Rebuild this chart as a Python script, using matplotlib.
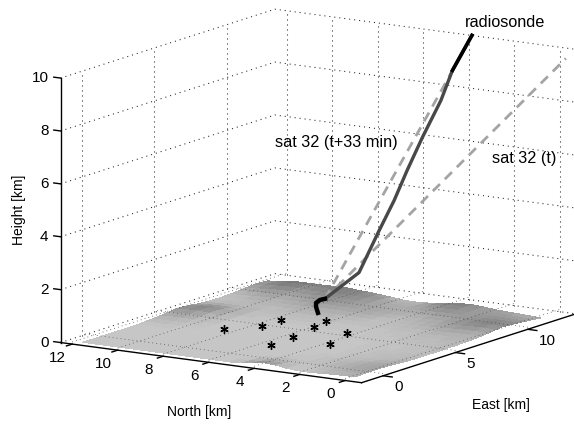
import numpy as np
import matplotlib
matplotlib.use("Agg")
import matplotlib.pyplot as plt
from mpl_toolkits.mplot3d import proj3d

plt.rcParams['font.family'] = ['Liberation Sans', 'DejaVu Sans']

# axis limits in km
east_lim = [-1.49, 13.33]
north_lim = [-0.72, 12.51]
height_lim = [0, 10]

east_ticks = [0, 5, 10]
north_ticks = [0, 2, 4, 6, 8, 10, 12]
height_ticks = [0, 2, 4, 6, 8, 10]

# radiosonde track
sonde_east = [7.84, 7.71, 7.71, 7.64, 7.30, 8.37, 8.70, 8.95, 9.36, 9.72, 10.05, 10.44, 10.94]
sonde_north = [7.13, 7.13, 7.13, 6.91, 6.48, 5.66, 4.99, 4.49, 4.18, 3.73, 3.13, 2.87, 2.33]
sonde_height = [0.10, 0.35, 0.50, 0.65, 0.80, 1.70, 3.30, 4.45, 5.55, 6.80, 8.20, 9.30, 10.60]

# satellite rays, start and end
sat_t_east = [7.30, 11.76]
sat_t_north = [6.48, -1.28]
sat_t_height = [0.80, 10.0]
sat_t33_east = [7.30, 11.55]
sat_t33_north = [6.48, 2.98]
sat_t33_height = [0.80, 10.0]

# receivers on the ground
recv_east = [3.44, 4.71, 6.01, 5.63, 6.78, 5.39, 3.68, 2.02, 3.33]
recv_north = [8.47, 7.62, 7.61, 5.90, 6.11, 4.28, 5.58, 5.48, 3.71]
recv_height = [0.1] * 9

# terrain height in 10 m steps, rows go north, columns go east
terrain_east = np.linspace(-1.2, 11.6, 25)
terrain_north = np.linspace(-0.28, 11.72, 25)
terrain = np.array([
    [12, 14, 15, 15, 14, 12, 10, 9, 8, 8, 8, 8, 9, 9, 10, 11, 13, 16, 20, 23, 22, 19, 16, 13, 10],
    [11, 13, 14, 14, 13, 11, 9, 8, 8, 7, 7, 8, 8, 9, 10, 11, 14, 18, 22, 24, 23, 20, 17, 14, 12],
    [10, 11, 12, 12, 11, 9, 8, 8, 7, 7, 7, 7, 8, 8, 9, 11, 14, 18, 21, 23, 22, 20, 18, 16, 14],
    [8, 9, 10, 10, 9, 8, 7, 7, 7, 6, 6, 7, 7, 8, 9, 11, 13, 16, 19, 20, 20, 19, 18, 17, 16],
    [6, 7, 8, 8, 8, 7, 7, 6, 6, 6, 6, 6, 7, 7, 8, 9, 11, 14, 16, 17, 18, 18, 18, 18, 18],
    [6, 6, 7, 7, 7, 6, 6, 6, 6, 6, 6, 6, 6, 7, 7, 8, 10, 12, 13, 15, 17, 19, 20, 21, 22],
    [9, 8, 7, 6, 6, 6, 5, 5, 5, 5, 5, 6, 6, 6, 7, 8, 9, 10, 12, 14, 17, 20, 23, 25, 25],
    [16, 12, 8, 6, 6, 5, 5, 5, 5, 5, 5, 5, 6, 6, 6, 7, 8, 9, 10, 12, 15, 19, 22, 25, 24],
    [19, 14, 9, 6, 5, 5, 5, 5, 5, 5, 5, 5, 5, 6, 6, 7, 7, 8, 9, 11, 13, 16, 19, 22, 20],
    [14, 10, 7, 5, 5, 5, 5, 5, 5, 5, 5, 5, 5, 6, 6, 7, 7, 8, 10, 12, 13, 14, 15, 16, 14],
    [7, 6, 5, 5, 5, 5, 5, 5, 5, 5, 5, 5, 5, 6, 6, 7, 8, 10, 12, 13, 13, 13, 12, 11, 9],
    [5, 5, 5, 5, 5, 5, 5, 5, 5, 5, 5, 5, 5, 6, 6, 7, 9, 11, 13, 14, 14, 13, 12, 10, 7],
    [5, 5, 5, 5, 5, 5, 5, 5, 5, 5, 5, 5, 5, 6, 7, 8, 9, 12, 14, 15, 15, 15, 14, 11, 7],
    [5, 5, 5, 5, 5, 5, 5, 5, 5, 5, 5, 5, 5, 6, 7, 8, 10, 12, 14, 16, 17, 18, 19, 17, 12],
    [5, 5, 5, 5, 5, 5, 5, 5, 5, 5, 5, 5, 5, 6, 7, 8, 10, 12, 15, 17, 19, 21, 22, 21, 16],
    [5, 5, 5, 5, 5, 5, 5, 5, 5, 5, 5, 5, 5, 6, 7, 8, 10, 12, 15, 18, 20, 22, 24, 24, 20],
    [5, 5, 5, 5, 5, 5, 5, 5, 5, 5, 5, 5, 5, 6, 7, 8, 10, 12, 15, 18, 21, 23, 25, 25, 22],
    [5, 5, 5, 5, 5, 5, 5, 5, 5, 5, 5, 5, 6, 6, 7, 8, 9, 11, 13, 16, 19, 22, 24, 26, 26],
    [5, 5, 5, 5, 5, 5, 5, 5, 5, 5, 5, 5, 6, 7, 7, 8, 8, 10, 12, 14, 17, 20, 23, 25, 25],
    [5, 5, 5, 5, 5, 5, 5, 5, 6, 6, 7, 8, 9, 10, 10, 10, 9, 10, 11, 13, 16, 19, 22, 25, 24],
    [5, 5, 5, 5, 5, 5, 5, 5, 6, 7, 8, 10, 13, 14, 12, 10, 9, 10, 12, 15, 18, 22, 25, 27, 24],
    [5, 5, 5, 5, 5, 5, 5, 6, 7, 9, 12, 15, 19, 20, 17, 12, 9, 9, 11, 14, 18, 22, 26, 28, 24],
    [5, 5, 5, 5, 5, 5, 5, 6, 8, 10, 14, 18, 22, 23, 19, 13, 9, 8, 9, 12, 16, 20, 24, 26, 22],
    [5, 5, 5, 5, 5, 5, 5, 6, 8, 10, 13, 17, 21, 21, 17, 12, 8, 7, 8, 10, 13, 16, 19, 20, 16],
    [5, 5, 5, 5, 5, 5, 5, 5, 7, 9, 11, 14, 17, 17, 14, 10, 8, 7, 7, 8, 10, 12, 14, 14, 12],
]) / 100

fig = plt.figure(figsize=(5.74, 4.24), dpi=100)
side = 640
ax = fig.add_axes([(309.6 - side / 2) / 574, (424 - 204.6 - side / 2) / 424, side / 574, side / 424],
                  projection='3d', computed_zorder=False)
ax.set_proj_type('ortho')
ax.view_init(elev=11.95, azim=-147.2)
ax.set_box_aspect((395.2, 357.6, 270), zoom=580.7 / side)
ax.set_axis_off()
ax.set_xlim(east_lim)
ax.set_ylim(north_lim)
ax.set_zlim(height_lim)


def label3d(x, y, z, s, **kw):
    # plain 2d text at the projected spot
    px, py, _ = proj3d.proj_transform(x, y, z, ax.get_proj())
    ax.text2D(px, py, s, transform=ax.transData, clip_on=False, **kw)


dots = (0, (1, 3.8))

# grid on the two back walls
for z in height_ticks:
    ax.plot([east_lim[0], east_lim[1], east_lim[1]], [north_lim[1], north_lim[1], north_lim[0]], [z, z, z],
            color='#222222', lw=0.75, ls=dots, zorder=1)
for e in east_ticks:
    ax.plot([e, e], [north_lim[1], north_lim[1]], height_lim, color='#222222', lw=0.75, ls=dots, zorder=1)
for n in north_ticks:
    ax.plot([east_lim[1], east_lim[1]], [n, n], height_lim, color='#222222', lw=0.75, ls=dots, zorder=1)

E, N = np.meshgrid(terrain_east, terrain_north)
shade = np.clip(0.84 - 1.3 * terrain, 0, 1)
ax.plot_surface(E, N, terrain, facecolors=plt.cm.gray(shade), rstride=1, cstride=1,
                shade=False, linewidth=0, antialiased=False, zorder=2)

# floor grid shows on top of the terrain
for e in east_ticks:
    ax.plot([e, e], north_lim, [0.08, 0.08], color='#555555', lw=0.6, ls=dots, zorder=3)
for n in north_ticks:
    ax.plot(east_lim, [n, n], [0.08, 0.08], color='#555555', lw=0.6, ls=dots, zorder=3)

ax.plot(sat_t_east, sat_t_north, sat_t_height, color='#a4a4a4', lw=2, ls=(0, (3.6, 2.5)), zorder=3)
ax.plot(sat_t33_east, sat_t33_north, sat_t33_height, color='#a4a4a4', lw=2, ls=(0, (3.6, 2.5)), zorder=3)

ax.plot(sonde_east[4:], sonde_north[4:], sonde_height[4:], color='#484848', lw=2.4, zorder=4)
ax.plot(sonde_east[:5], sonde_north[:5], sonde_height[:5], color='k', lw=3.2, zorder=5)
ax.plot(sonde_east[-2:], sonde_north[-2:], sonde_height[-2:], color='k', lw=2.6, zorder=5)

ax.plot(recv_east, recv_north, recv_height, ls='none', marker=(6, 2, 0), ms=6, mew=1, color='k', zorder=5)

# axis lines and ticks
ax.plot([east_lim[0], east_lim[0]], north_lim, [0, 0], color='k', lw=1, zorder=6)
ax.plot(east_lim, [north_lim[0], north_lim[0]], [0, 0], color='k', lw=1, zorder=6)
ax.plot([east_lim[0], east_lim[0]], [north_lim[1], north_lim[1]], height_lim, color='k', lw=1, zorder=6)

for z in height_ticks:
    ax.plot([east_lim[0], east_lim[0]], [north_lim[1], north_lim[1] + 0.3], [z, z], color='k', lw=1, zorder=6)
    label3d(east_lim[0], north_lim[1] + 0.53, z - 0.06, str(z), ha='right', va='center', fontsize=11)
for n in north_ticks:
    ax.plot([east_lim[0], east_lim[0] - 0.4], [n, n], [0, 0], color='k', lw=1, zorder=6)
    label3d(east_lim[0] - 1.0, n, -0.35, str(n), ha='center', va='center', fontsize=11)
for e in east_ticks:
    ax.plot([e, e], [north_lim[0], north_lim[0] - 0.4], [0, 0], color='k', lw=1, zorder=6)
    label3d(e, north_lim[0] - 0.5, -0.38, str(e), ha='left', va='center', fontsize=11)

fig.text(199.6 / 574, 1 - 412 / 424, 'North [km]', ha='center', va='center', fontsize=10)
fig.text(500.7 / 574, 1 - 405 / 424, 'East [km]', ha='center', va='center', fontsize=10)
fig.text(19 / 574, 1 - 210 / 424, 'Height [km]', rotation=90, ha='center', va='center', fontsize=10)
fig.text(505 / 574, 1 - 22.7 / 424, 'radiosonde', ha='center', va='center', fontsize=11.7)
fig.text(336.5 / 574, 1 - 142 / 424, 'sat 32 (t+33 min)', ha='center', va='center', fontsize=11.7)
fig.text(524 / 574, 1 - 159 / 424, 'sat 32 (t)', ha='center', va='center', fontsize=11.7)

fig.savefig('out.png', dpi=100)
